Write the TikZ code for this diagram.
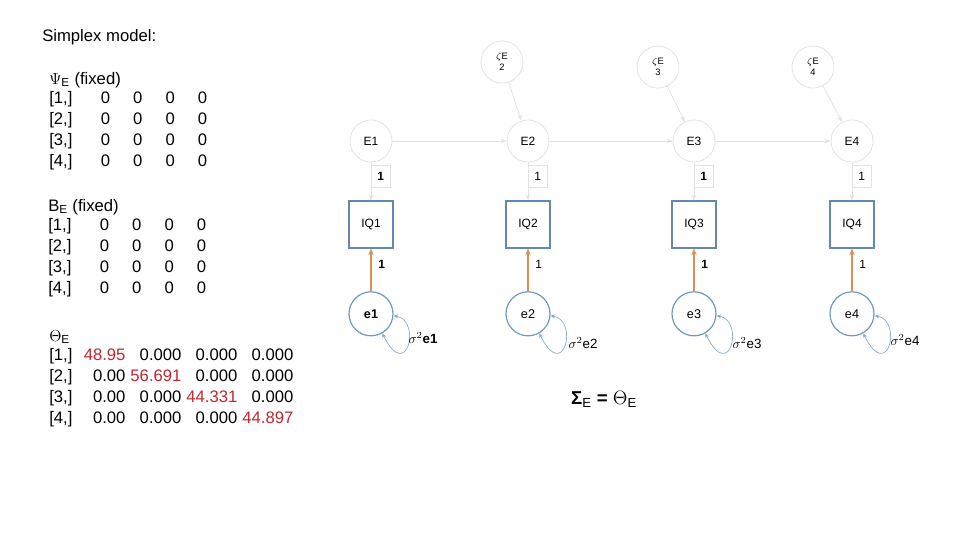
\documentclass[tikz,border=0pt]{standalone}
\usepackage{fontspec}
\setmainfont{Liberation Sans}
\usepackage{xcolor}
\usepackage{amsmath}
\usepackage{tikz}
\usetikzlibrary{arrows.meta, positioning}

\definecolor{faint}{HTML}{E2E2E2}
\definecolor{boxblue}{HTML}{6589AB}
\definecolor{errblue}{HTML}{6E9AC2}
\definecolor{loopblue}{HTML}{86AACB}
\definecolor{pathorange}{HTML}{D98F57}
\definecolor{estred}{HTML}{C1272D}

\newcommand{\rowtag}[1]{{[}#1,{]}}
\newcommand{\est}[1]{\textcolor{estred}{#1}}
\newcommand{\mattext}{\fontsize{12.5}{15.75}\selectfont}

\begin{document}
\begin{tikzpicture}[x=0.75pt, y=-0.75pt,
  latent/.style={circle, draw=faint, line width=0.6pt, minimum size=31.5pt, inner sep=0pt, align=center, font=\fontsize{9}{10}\selectfont},
  obs/.style={rectangle, draw=boxblue, line width=1.1pt, minimum width=33pt, minimum height=35pt, inner sep=0pt, font=\fontsize{9}{10}\selectfont},
  err/.style={circle, draw=errblue, line width=0.9pt, minimum size=33pt, inner sep=0pt, font=\fontsize{9.5}{11}\selectfont},
  fixpath/.style={draw=faint, line width=0.6pt, -{Stealth[length=4.5pt, width=3.5pt]}},
  loadpath/.style={draw=pathorange, line width=1.1pt, -{Stealth[length=5pt, width=4pt]}},
  onebox/.style={draw=faint, line width=0.5pt, pos=0.37, anchor=west, minimum width=14pt, minimum height=16.5pt, inner sep=0pt, font=\fontsize{9}{10}\selectfont},
  loadlabel/.style={pos=0.62, anchor=west, inner sep=5pt, font=\fontsize{9}{10}\selectfont},
  varloop/.style={draw=loopblue, line width=0.5pt, {Stealth[length=3.5pt, width=3pt]}-{Stealth[length=3.5pt, width=3pt]}},
  varlabel/.style={font=\fontsize{10}{12}\selectfont}
]
  \useasboundingbox (0,0) rectangle (960,540);

  % matrices on the left
  \node[anchor=base west, inner sep=0pt, font=\mattext] (title) at (42,41) {Simplex model:};

  \node[anchor=base west, inner sep=0pt, font=\mattext] (psi) at (49,84) {%
    \begin{tabular}[t]{@{}l@{\hspace{21.3pt}}c@{\hspace{17.3pt}}c@{\hspace{17.3pt}}c@{\hspace{17.3pt}}c@{}}
      \multicolumn{5}{@{}l@{}}{$\Psi$\textsubscript{E} (fixed)}\\[-1.5pt]
      \rowtag{1} & 0 & 0 & 0 & 0\\
      \rowtag{2} & 0 & 0 & 0 & 0\\
      \rowtag{3} & 0 & 0 & 0 & 0\\
      \rowtag{4} & 0 & 0 & 0 & 0
    \end{tabular}};

  \node[anchor=base west, inner sep=0pt, font=\mattext] (beta) at (48,211) {%
    \begin{tabular}[t]{@{}l@{\hspace{21.3pt}}c@{\hspace{17.3pt}}c@{\hspace{17.3pt}}c@{\hspace{17.3pt}}c@{}}
      \multicolumn{5}{@{}l@{}}{B\textsubscript{E} (fixed)}\\[-1.5pt]
      \rowtag{1} & 0 & 0 & 0 & 0\\
      \rowtag{2} & 0 & 0 & 0 & 0\\
      \rowtag{3} & 0 & 0 & 0 & 0\\
      \rowtag{4} & 0 & 0 & 0 & 0
    \end{tabular}};

  \node[anchor=base west, inner sep=0pt, font=\mattext] (theta) at (49,341) {%
    \begin{tabular}[t]{@{}l@{\hspace{8.5pt}}r@{\hspace{3.75pt}}r@{\hspace{3.75pt}}r@{\hspace{3.75pt}}r@{}}
      \multicolumn{5}{@{}l@{}}{$\Theta$\textsubscript{E}}\\[-1.5pt]
      \rowtag{1} & \est{48.95} & 0.000 & 0.000 & 0.000\\
      \rowtag{2} & 0.00 & \est{56.691} & 0.000 & 0.000\\
      \rowtag{3} & 0.00 & 0.000 & \est{44.331} & 0.000\\
      \rowtag{4} & 0.00 & 0.000 & 0.000 & \est{44.897}
    \end{tabular}};

  % path diagram
  \node[latent] (E1) at (371,141) {E1};
  \node[latent] (E2) at (528,141) {E2};
  \node[latent] (E3) at (694,141) {E3};
  \node[latent] (E4) at (852,141) {E4};
  \node[latent, font=\fontsize{7}{8.5}\selectfont] (z2) at (502,62) {$\zeta$E\\2};
  \node[latent, font=\fontsize{7}{8.5}\selectfont] (z3) at (658,67) {$\zeta$E\\3};
  \node[latent, font=\fontsize{7}{8.5}\selectfont] (z4) at (813,67) {$\zeta$E\\4};

  \node[obs, below=28.5pt of E1] (IQ1) {IQ1};
  \node[obs, below=28.5pt of E2] (IQ2) {IQ2};
  \node[obs, below=28.5pt of E3] (IQ3) {IQ3};
  \node[obs, below=28.5pt of E4] (IQ4) {IQ4};

  \node[err, below=32pt of IQ1] (e1) {\textbf{e1}};
  \node[err, below=32pt of IQ2] (e2) {e2};
  \node[err, below=32pt of IQ3] (e3) {e3};
  \node[err, below=32pt of IQ4] (e4) {e4};

  \draw[fixpath] (E1) -- (E2);
  \draw[fixpath] (E2) -- (E3);
  \draw[fixpath] (E3) -- (E4);
  \draw[fixpath] (z2) -- (E2);
  \draw[fixpath] (z3) -- (E3);
  \draw[fixpath] (z4) -- (E4);

  \draw[fixpath] (E1) -- node[onebox] {\textbf{1}} (IQ1);
  \draw[fixpath] (E2) -- node[onebox] {1} (IQ2);
  \draw[fixpath] (E3) -- node[onebox] {\textbf{1}} (IQ3);
  \draw[fixpath] (E4) -- node[onebox] {1} (IQ4);

  \draw[loadpath] (e1) -- node[loadlabel] {\textbf{1}} (IQ1);
  \draw[loadpath] (e2) -- node[loadlabel] {1} (IQ2);
  \draw[loadpath] (e3) -- node[loadlabel] {\textbf{1}} (IQ3);
  \draw[loadpath] (e4) -- node[loadlabel] {1} (IQ4);

  \draw[varloop] (e1.-5) .. controls +(28,4) and +(25,50) .. (e1.-60);
  \draw[varloop] (e2.-5) .. controls +(28,4) and +(25,50) .. (e2.-60);
  \draw[varloop] (e3.-5) .. controls +(28,4) and +(25,50) .. (e3.-60);
  \draw[varloop] (e4.-5) .. controls +(28,4) and +(25,50) .. (e4.-60);

  \node[varlabel] (v1) at (423,338) {$\sigma^2$\textbf{e1}};
  \node[varlabel] (v2) at (583,343) {$\sigma^2$e2};
  \node[varlabel] (v3) at (747,343) {$\sigma^2$e3};
  \node[varlabel] (v4) at (905,340) {$\sigma^2$e4};

  \node[font=\fontsize{14}{16}\selectfont] (sigeq) at (604,399) {\textbf{Σ}\textsubscript{E} \textbf{=} $\Theta$\textsubscript{E}};
\end{tikzpicture}
\end{document}
